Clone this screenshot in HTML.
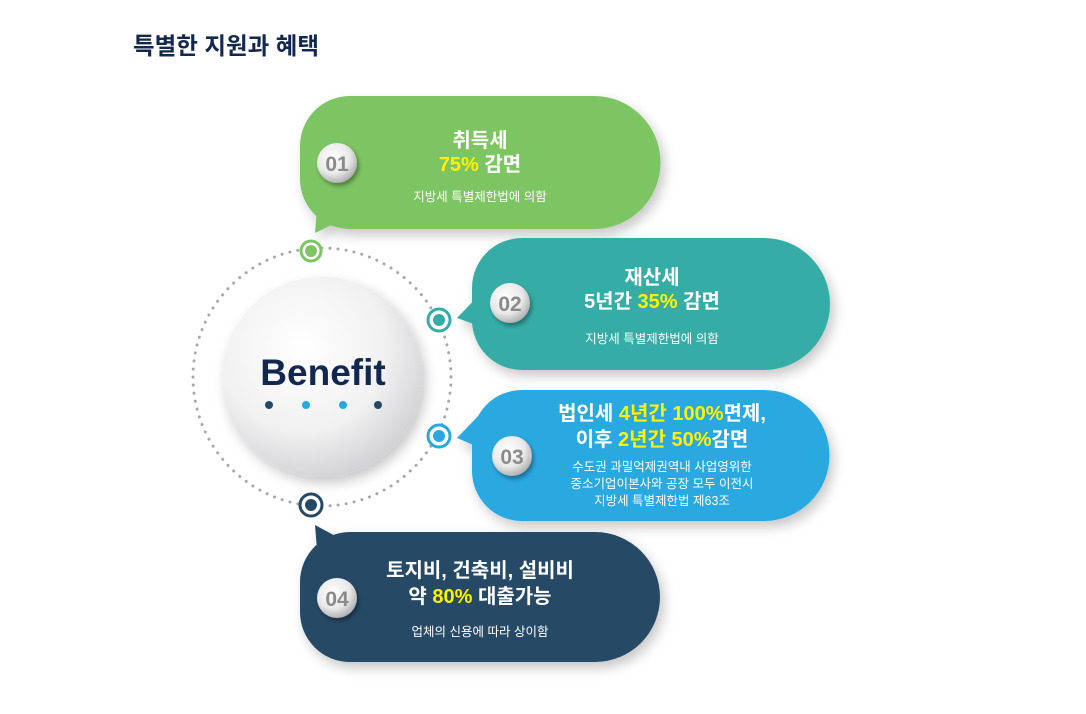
<!DOCTYPE html>
<html><head><meta charset="utf-8"><style>
html,body{margin:0;padding:0;background:#fff;width:1086px;height:714px;overflow:hidden}
svg{display:block}
text{font-family:"Liberation Sans","Noto Sans CJK KR",sans-serif}
.t{fill:#fff;font-size:20px;font-weight:bold;text-anchor:middle}
.s{fill:#fff;font-size:12.5px;text-anchor:middle}
.y{fill:#fff200}
.n{font-size:21px;font-weight:bold;fill:#8a8a8a;text-anchor:middle}
</style></head><body>
<svg width="1086" height="714" viewBox="0 0 1086 714" xmlns="http://www.w3.org/2000/svg">
<defs>
<radialGradient id="ball" cx="0.4" cy="0.35" r="0.7">
<stop offset="0" stop-color="#ffffff"/><stop offset="0.6" stop-color="#f1f1f2"/><stop offset="1" stop-color="#cfcfd2"/>
</radialGradient>
<radialGradient id="sb" cx="0.4" cy="0.35" r="0.7">
<stop offset="0" stop-color="#ffffff"/><stop offset="0.6" stop-color="#e8e8e8"/><stop offset="1" stop-color="#a8a8a8"/>
</radialGradient>
<filter id="sh" x="-20%" y="-20%" width="150%" height="150%"><feDropShadow dx="4" dy="6" stdDeviation="6" flood-color="#000" flood-opacity="0.22"/></filter>
<filter id="sh2" x="-30%" y="-30%" width="170%" height="170%"><feDropShadow dx="2" dy="3" stdDeviation="2" flood-color="#000" flood-opacity="0.35"/></filter>
</defs>
<text x="133" y="54" style="font-size:23.5px;font-weight:bold;fill:#13284f">특별한 지원과 혜택</text>

<circle cx="322" cy="377" r="129" fill="none" stroke="#a8a8a8" stroke-width="3" stroke-dasharray="0.1 8" stroke-linecap="round"/>

<g filter="url(#sh)">
<path d="M350 96 H594 A66.5 66.5 0 0 1 594 229 H350 A50 50 0 0 1 300 179 V146 A50 50 0 0 1 350 96 Z" fill="#7dc462"/>
<path d="M318 195 L315 233 L352 215 Z" fill="#7dc462"/>
<path d="M522 238 H764 A66 66 0 0 1 764 370 H522 A50 50 0 0 1 472 320 V288 A50 50 0 0 1 522 238 Z" fill="#35ada6"/>
<path d="M482 292 L457 318 L490 330 Z" fill="#35ada6"/>
<path d="M522 390 H764 A65.5 65.5 0 0 1 764 521 H522 A50 50 0 0 1 472 471 V440 A50 50 0 0 1 522 390 Z" fill="#29a8e0"/>
<path d="M482 412 L457 438 L490 452 Z" fill="#29a8e0"/>
<path d="M350 532 H595 A65 65 0 0 1 595 662 H350 A50 50 0 0 1 300 612 V582 A50 50 0 0 1 350 532 Z" fill="#264a66"/>
<path d="M318 562 L315 525 L352 545 Z" fill="#264a66"/>
</g>

<circle cx="311" cy="251" r="10" fill="#fff" stroke="#7dc462" stroke-width="3"/><circle cx="311" cy="251" r="6" fill="#7dc462"/>
<circle cx="439" cy="320" r="11" fill="#fff" stroke="#35ada6" stroke-width="3"/><circle cx="439" cy="320" r="6" fill="#35ada6"/>
<circle cx="439" cy="436" r="11" fill="#fff" stroke="#29a8e0" stroke-width="3"/><circle cx="439" cy="436" r="6" fill="#29a8e0"/>
<circle cx="311" cy="505" r="11" fill="#fff" stroke="#264a66" stroke-width="3"/><circle cx="311" cy="505" r="6" fill="#264a66"/>

<circle cx="322" cy="377" r="100" fill="url(#ball)" filter="url(#sh)"/>
<text x="323" y="385" style="font-size:37px;font-weight:bold;fill:#13284f;text-anchor:middle">Benefit</text>
<circle cx="269" cy="405" r="4" fill="#264a66"/><circle cx="306" cy="405" r="4" fill="#29a8e0"/><circle cx="343" cy="405" r="4" fill="#29a8e0"/><circle cx="378" cy="405" r="4" fill="#264a66"/>

<g filter="url(#sh2)">
<circle cx="337" cy="163" r="20" fill="url(#sb)"/>
<circle cx="510" cy="303" r="20" fill="url(#sb)"/>
<circle cx="512" cy="456" r="20" fill="url(#sb)"/>
<circle cx="337" cy="598" r="20" fill="url(#sb)"/>
</g>
<text class="n" x="337" y="171">01</text>
<text class="n" x="510" y="311">02</text>
<text class="n" x="512" y="464">03</text>
<text class="n" x="337" y="606">04</text>

<text class="t" x="480" y="147">취득세</text>
<text class="t" x="480" y="171"><tspan class="y">75%</tspan> 감면</text>
<text class="s" x="480" y="201">지방세 특별제한법에 의함</text>

<text class="t" x="652" y="284">재산세</text>
<text class="t" x="652" y="308">5년간 <tspan class="y">35%</tspan> 감면</text>
<text class="s" x="652" y="343">지방세 특별제한법에 의함</text>

<text class="t" x="662" y="420">법인세 <tspan class="y">4년간 100%</tspan>면제,</text>
<text class="t" x="662" y="446">이후 <tspan class="y">2년간 50%</tspan>감면</text>
<text class="s" x="662" y="471">수도권 과밀억제권역내 사업영위한</text>
<text class="s" x="662" y="488">중소기업이본사와 공장 모두 이전시</text>
<text class="s" x="662" y="505">지방세 특별제한법 제63조</text>

<text class="t" x="480" y="577">토지비, 건축비, 설비비</text>
<text class="t" x="480" y="603">약 <tspan class="y">80%</tspan> 대출가능</text>
<text class="s" x="480" y="636">업체의 신용에 따라 상이함</text>
</svg>
</body></html>
